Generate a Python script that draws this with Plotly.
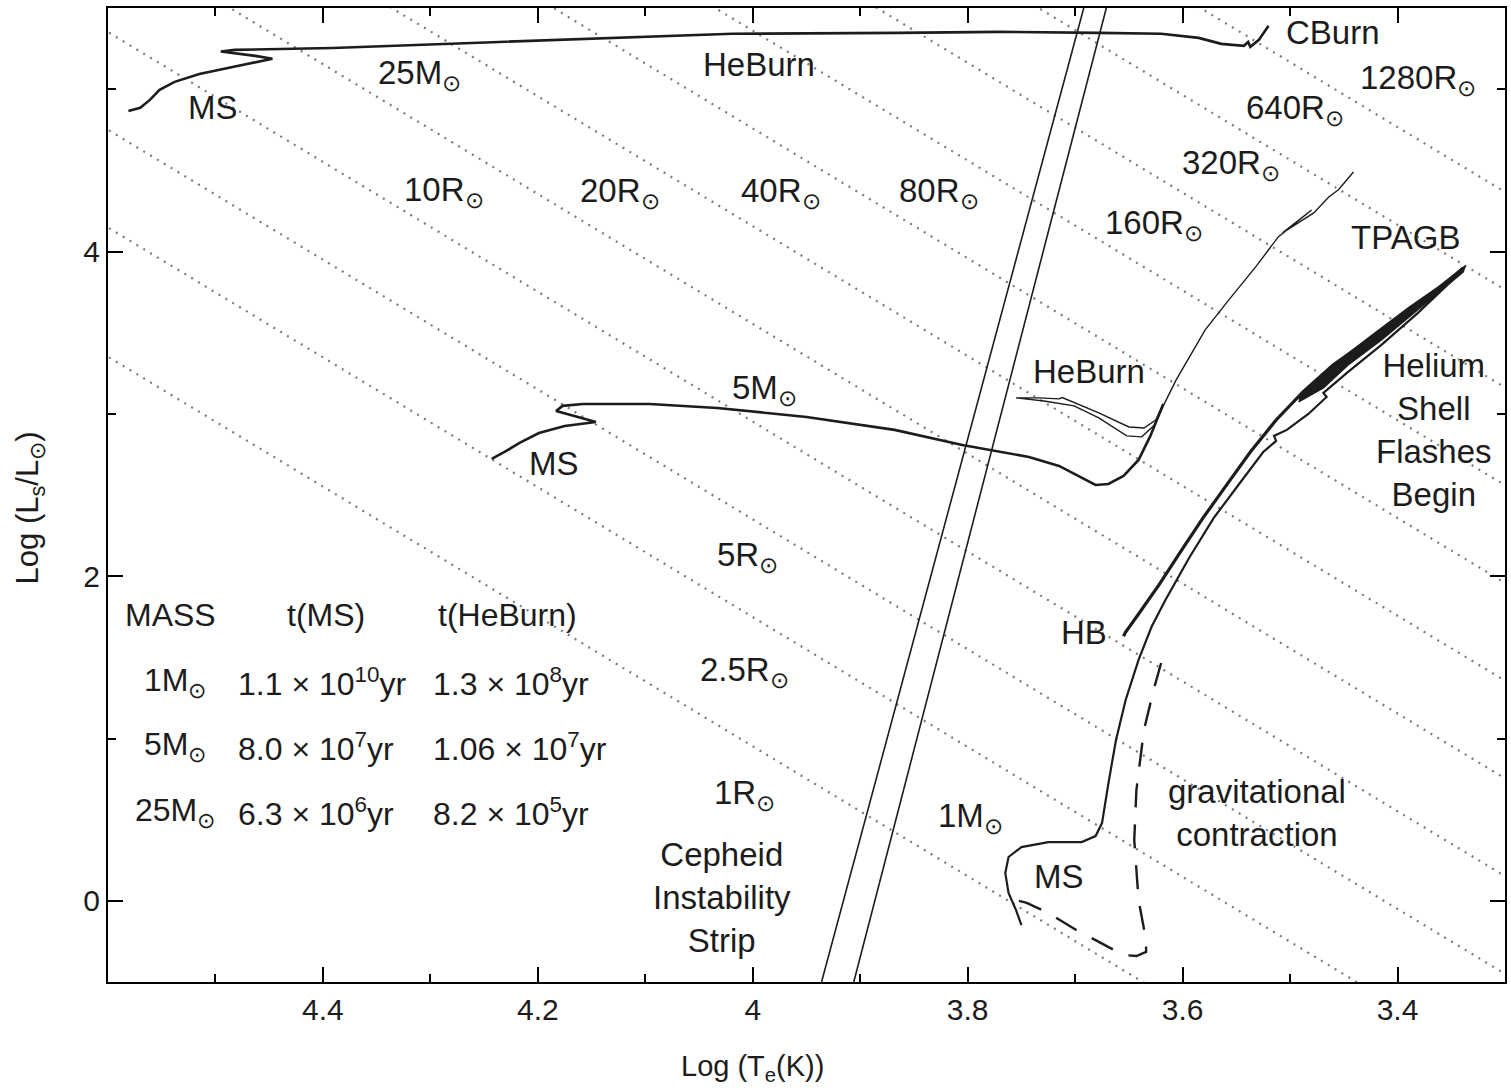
import numpy as np
import plotly.graph_objects as go

# log10 of the solar effective temperature (K)
LOG_TSUN = 3.762

# Lines of constant stellar radius (in solar radii)
radii = [1, 2.5, 5, 10, 20, 40, 80, 160, 320, 640, 1280]

# 25 Msun track: log Te (K), log L/Lsun
m25_logt = [4.581, 4.570, 4.561, 4.552, 4.538, 4.515, 4.484, 4.457, 4.447, 4.463, 4.495,
            4.482, 4.391, 4.236, 4.019, 3.864, 3.771, 3.678, 3.620, 3.585, 3.564, 3.543,
            3.539, 3.537, 3.529, 3.520]
m25_logl = [4.866, 4.885, 4.934, 4.996, 5.045, 5.094, 5.137, 5.174, 5.187, 5.205, 5.232,
            5.242, 5.254, 5.291, 5.341, 5.347, 5.353, 5.347, 5.341, 5.316, 5.279, 5.267,
            5.291, 5.261, 5.304, 5.390]

# 5 Msun track: main sequence to the base of the giant branch and up to He ignition
m5_logt = [4.243, 4.231, 4.217, 4.199, 4.175, 4.146, 4.166, 4.183, 4.177, 4.158, 4.096,
           4.033, 3.950, 3.868, 3.805, 3.743, 3.715, 3.697, 3.681, 3.669, 3.655, 3.641,
           3.630, 3.618]
m5_logl = [2.722, 2.765, 2.821, 2.882, 2.925, 2.950, 2.987, 3.018, 3.049, 3.061, 3.061,
           3.036, 2.981, 2.901, 2.808, 2.734, 2.679, 2.617, 2.562, 2.568, 2.617, 2.716,
           2.864, 3.061]

# 5 Msun core helium burning loop and asymptotic giant branch
m5_he_logt = [3.618, 3.625, 3.636, 3.650, 3.678, 3.699, 3.704, 3.712, 3.715, 3.734, 3.755,
              3.729, 3.701, 3.678, 3.652, 3.638, 3.626, 3.618, 3.606, 3.594, 3.579, 3.557,
              3.532, 3.511, 3.480, 3.507, 3.478, 3.464, 3.455, 3.452, 3.441]
m5_he_logl = [3.061, 2.962, 2.913, 2.919, 3.006, 3.067, 3.080, 3.100, 3.092, 3.098, 3.098,
              3.079, 3.049, 2.975, 2.864, 2.858, 2.932, 3.049, 3.209, 3.344, 3.517, 3.702,
              3.905, 4.090, 4.256, 4.115, 4.238, 4.336, 4.380, 4.404, 4.490]

# 1 Msun track: main sequence and red giant branch
m1_logt = [3.750, 3.755, 3.762, 3.765, 3.762, 3.750, 3.725, 3.694, 3.681, 3.675, 3.669,
           3.662, 3.653, 3.641, 3.629, 3.616, 3.594, 3.571, 3.546, 3.525, 3.513, 3.515,
           3.503, 3.483, 3.466, 3.469, 3.446, 3.415, 3.381, 3.339]
m1_logl = [-0.149, -0.057, 0.048, 0.171, 0.270, 0.331, 0.362, 0.362, 0.399, 0.479, 0.726,
           0.991, 1.237, 1.484, 1.687, 1.853, 2.112, 2.359, 2.580, 2.765, 2.833, 2.864,
           2.901, 2.999, 3.104, 3.129, 3.258, 3.425, 3.622, 3.887]

# 1 Msun horizontal branch to asymptotic giant branch
m1_hb_logt = [3.655, 3.653, 3.641, 3.622, 3.602, 3.581, 3.559, 3.537, 3.513, 3.488, 3.460,
              3.427, 3.390, 3.362, 3.339]
m1_hb_logl = [1.630, 1.656, 1.767, 1.946, 2.149, 2.359, 2.562, 2.765, 2.962, 3.135, 3.301,
              3.455, 3.640, 3.763, 3.899]

# 1 Msun thermally pulsing AGB band (outline)
tpagb_logt = [3.492, 3.460, 3.427, 3.390, 3.362, 3.337, 3.339, 3.381, 3.415, 3.446, 3.469,
              3.492]
tpagb_logl = [3.104, 3.301, 3.468, 3.653, 3.782, 3.911, 3.874, 3.640, 3.455, 3.301, 3.160,
              3.074]

# 1 Msun pre-main-sequence gravitational contraction
prems_logt = [3.620, 3.627, 3.636, 3.643, 3.645, 3.641, 3.634, 3.634, 3.643, 3.655, 3.681,
              3.699, 3.725, 3.745, 3.755]
prems_logl = [1.465, 1.299, 1.052, 0.683, 0.375, 0.005, -0.242, -0.315, -0.340, -0.334,
              -0.242, -0.180, -0.075, -0.013, 0.005]

# Cepheid instability strip edges (log Te at log L = -0.5 and 5.5)
strip_lum = [-0.5, 5.5]
strip_blue_logt = [3.936, 3.692]
strip_red_logt = [3.906, 3.671]

# Axis ticks
x_ticks = [4.4, 4.2, 4.0, 3.8, 3.6, 3.4]
x_ticktext = ["4.4", "4.2", "4", "3.8", "3.6", "3.4"]
x_minor = [4.5, 4.3, 4.1, 3.9, 3.7, 3.5]
y_ticks = [0, 2, 4]
y_ticktext = ["0", "2", "4"]
y_minor = [1, 3, 5]

SUN = "<sub>\u2299</sub>"

# Labels: (text, log Te, log L)
labels = [
    ("25M" + SUN, 4.310, 5.088),
    ("HeBurn", 3.994, 5.150),
    ("MS", 4.502, 4.885),
    ("10R" + SUN, 4.287, 4.367),
    ("20R" + SUN, 4.124, 4.361),
    ("40R" + SUN, 3.974, 4.361),
    ("80R" + SUN, 3.827, 4.361),
    ("CBurn", 3.460, 5.347),
    ("1280R" + SUN, 3.381, 5.057),
    ("640R" + SUN, 3.495, 4.872),
    ("320R" + SUN, 3.555, 4.534),
    ("160R" + SUN, 3.627, 4.164),
    ("TPAGB", 3.393, 4.084),
    ("HeBurn", 3.687, 3.258),
    ("Helium<br>Shell<br>Flashes<br>Begin", 3.366, 2.901),
    ("5M" + SUN, 3.989, 3.147),
    ("MS", 4.185, 2.697),
    ("5R" + SUN, 4.005, 2.118),
    ("HB", 3.692, 1.656),
    ("2.5R" + SUN, 4.008, 1.410),
    ("1R" + SUN, 4.008, 0.652),
    ("1M" + SUN, 3.797, 0.510),
    ("gravitational<br>contraction", 3.531, 0.541),
    ("Cepheid<br>Instability<br>Strip", 4.029, 0.023),
    ("MS", 3.715, 0.147),
]

# Lifetime table
table_header = ["MASS", "t(MS)", "t(HeBurn)"]
table_mass = ["1M" + SUN, "5M" + SUN, "25M" + SUN]
table_tms = ["1.1 \u00d7 10<sup>10</sup>yr", "8.0 \u00d7 10<sup>7</sup>yr",
             "6.3 \u00d7 10<sup>6</sup>yr"]
table_the = ["1.3 \u00d7 10<sup>8</sup>yr", "1.06 \u00d7 10<sup>7</sup>yr",
             "8.2 \u00d7 10<sup>5</sup>yr"]

FONT = "Liberation Sans, Arial, Helvetica, sans-serif"
INK = "#1c1c1c"
LABEL_SIZE = 33

fig = go.Figure()

# Constant-radius lines from L = 4 pi R^2 sigma T^4
t_span = np.array([4.65, 3.25])
for r in radii:
    fig.add_trace(go.Scatter(
        x=t_span, y=2 * np.log10(r) + 4 * (t_span - LOG_TSUN),
        mode="lines", line=dict(color="#7a7a7a", width=2.2, dash="2px,6px"),
        hoverinfo="skip"))

# Instability strip
for edge in (strip_blue_logt, strip_red_logt):
    fig.add_trace(go.Scatter(x=edge, y=strip_lum, mode="lines",
                             line=dict(color=INK, width=1.6), hoverinfo="skip"))

# Tracks
fig.add_trace(go.Scatter(x=m25_logt, y=m25_logl, mode="lines",
                         line=dict(color=INK, width=2.6)))
fig.add_trace(go.Scatter(x=m5_logt, y=m5_logl, mode="lines",
                         line=dict(color=INK, width=2.6)))
fig.add_trace(go.Scatter(x=m5_he_logt, y=m5_he_logl, mode="lines",
                         line=dict(color=INK, width=1.4)))
fig.add_trace(go.Scatter(x=prems_logt, y=prems_logl, mode="lines",
                         line=dict(color=INK, width=2.4, dash="24px,17px")))
fig.add_trace(go.Scatter(x=m1_logt, y=m1_logl, mode="lines",
                         line=dict(color=INK, width=2.2)))
fig.add_trace(go.Scatter(x=m1_hb_logt, y=m1_hb_logl, mode="lines",
                         line=dict(color=INK, width=3.2)))
fig.add_trace(go.Scatter(x=tpagb_logt, y=tpagb_logl, mode="lines", fill="toself",
                         fillcolor=INK, line=dict(color=INK, width=1.5)))

annotations = []
for text, lt, ll in labels:
    annotations.append(dict(x=lt, y=ll, xref="x", yref="y", text=text, showarrow=False,
                            font=dict(family=FONT, size=LABEL_SIZE, color=INK),
                            xanchor="center", yanchor="middle"))

# Table columns
header_pos = [4.542, 4.397, 4.228]
row_lum = [1.348, 0.948, 0.547]
TABLE_SIZE = LABEL_SIZE - 1
for lt, text in zip(header_pos, table_header):
    annotations.append(dict(x=lt, y=1.761, xref="x", yref="y", text=text, showarrow=False,
                            font=dict(family=FONT, size=TABLE_SIZE, color=INK),
                            xanchor="center", yanchor="middle"))
for i in range(3):
    annotations.append(dict(x=4.538, y=row_lum[i], xref="x", yref="y", text=table_mass[i],
                            showarrow=False, font=dict(family=FONT, size=TABLE_SIZE, color=INK),
                            xanchor="center", yanchor="middle"))
    annotations.append(dict(x=4.481, y=row_lum[i], xref="x", yref="y", text=table_tms[i],
                            showarrow=False, font=dict(family=FONT, size=TABLE_SIZE, color=INK),
                            xanchor="left", yanchor="middle"))
    annotations.append(dict(x=4.299, y=row_lum[i], xref="x", yref="y", text=table_the[i],
                            showarrow=False, font=dict(family=FONT, size=TABLE_SIZE, color=INK),
                            xanchor="left", yanchor="middle"))

# Axis titles
annotations.append(dict(x=4.0, y=-0.088, xref="x", yref="paper",
                        text="Log (T<sub>e</sub>(K))", showarrow=False,
                        font=dict(family=FONT, size=29, color=INK),
                        xanchor="center", yanchor="middle"))
annotations.append(dict(x=-0.056, y=0.487, xref="paper", yref="paper",
                        text="Log (L<sub>s</sub>/L<sub>\u2299</sub>)", showarrow=False,
                        textangle=-90, font=dict(family=FONT, size=31, color=INK),
                        xanchor="center", yanchor="middle"))

axis_common = dict(ticks="inside", ticklen=15, tickwidth=1.5, tickcolor="black",
                   showline=True, linecolor="black", linewidth=2, mirror="allticks",
                   showgrid=False, zeroline=False,
                   tickfont=dict(family=FONT, size=30, color=INK))

fig.update_xaxes(range=[4.6, 3.3], tickmode="array", tickvals=x_ticks, ticktext=x_ticktext,
                 minor=dict(tickmode="array", tickvals=x_minor, ticks="inside", ticklen=8,
                            tickwidth=1.5, tickcolor="black", showgrid=False),
                 **axis_common)
fig.update_yaxes(range=[-0.5, 5.5], tickmode="array", tickvals=y_ticks, ticktext=y_ticktext,
                 minor=dict(tickmode="array", tickvals=y_minor, ticks="inside", ticklen=8,
                            tickwidth=1.5, tickcolor="black", showgrid=False),
                 **axis_common)

fig.update_layout(width=1511, height=1092,
                  margin=dict(l=108, r=4, t=8, b=110),
                  plot_bgcolor="white", paper_bgcolor="white",
                  showlegend=False, hovermode=False,
                  annotations=annotations,
                  font=dict(family=FONT, color=INK))

fig.write_html("out.html")
